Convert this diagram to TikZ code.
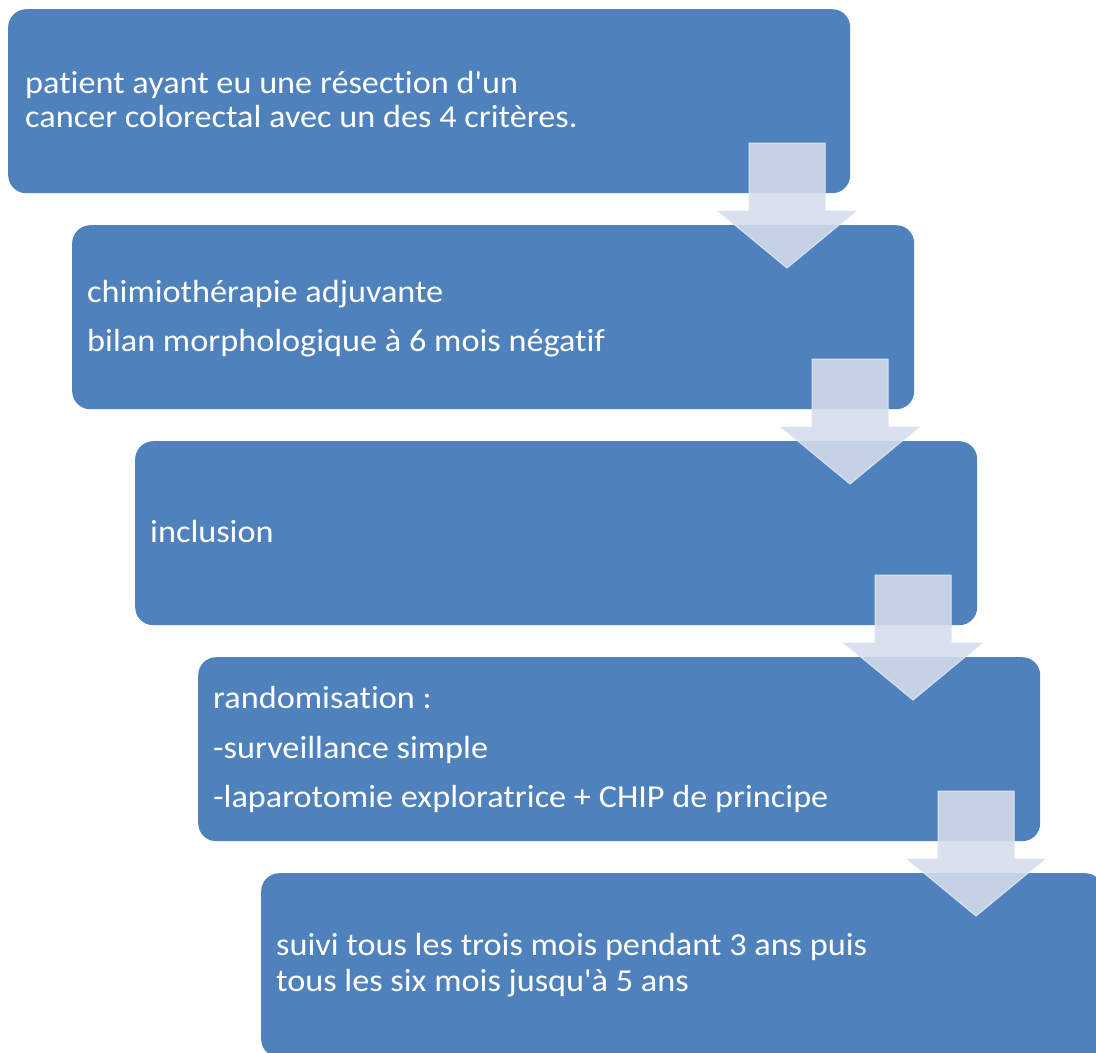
\documentclass[tikz,border=0pt]{standalone}
\usepackage{fontspec}
\setmainfont{Carlito}[Ligatures={TeXOff,NoCommon}, FakeStretch=1.07]
\definecolor{boxblue}{HTML}{4F81BD}
\definecolor{arrowc}{HTML}{D4DDEC}
\definecolor{arrowedge}{HTML}{DDE4F0}
\begin{document}
\begin{tikzpicture}[x=1pt,y=-1pt,
  box/.style={fill=boxblue, draw=none, rounded corners=18pt, minimum width=842pt, minimum height=184pt, anchor=north west, inner sep=0pt},
  txt/.style={text=white, font=\fontsize{32}{38}\selectfont, anchor=base west, inner sep=0pt},
  blockarrow/.style={fill=arrowc, fill opacity=0.89, draw=arrowedge, line width=1pt, line join=miter}]
\useasboundingbox (0,0) rectangle (1096,1053);
\begin{scope}
\clip (0,0) rectangle (1096,1053);
\node[box] (b1) at (8,9) {};
\node[box] (b2) at (72,225) {};
\node[box] (b3) at (135,441) {};
\node[box] (b4) at (198,657) {};
\node[box] (b5) at (261,873) {};
\end{scope}
\node[txt] (t1a) at (25,93) {patient ayant eu une résection d'un};
\node[txt] (t1b) at (25,127) {cancer colorectal avec un des 4 critères.};
\node[txt] (t2a) at (87,302) {chimiothérapie adjuvante};
\node[txt] (t2b) at (87,351) {bilan morphologique à 6 mois négatif};
\node[txt] (t3a) at (150,542) {inclusion};
\node[txt] (t4a) at (213,708) {randomisation :};
\node[txt] (t4b) at (213,758) {-surveillance simple};
\node[txt] (t4c) at (213,807) {-laparotomie exploratrice + CHIP de principe};
\node[txt] (t5a) at (276,955) {suivi tous les trois mois pendant 3 ans puis};
\node[txt] (t5b) at (276,991) {tous les six mois jusqu'à 5 ans};
\foreach \cx/\ty in {787/143, 850/359, 913/575, 976/791}{
  \draw[blockarrow] (\cx-38,\ty) -- (\cx+38,\ty) -- (\cx+38,\ty+68) -- (\cx+69,\ty+68)
    -- (\cx,\ty+125) -- (\cx-69,\ty+68) -- (\cx-38,\ty+68) -- cycle;
}
\end{tikzpicture}
\end{document}
